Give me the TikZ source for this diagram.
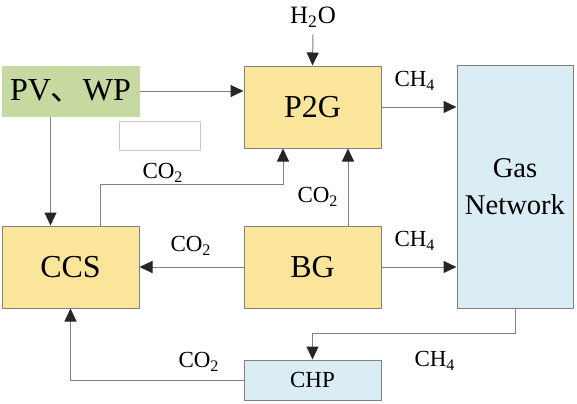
\documentclass[tikz,border=0pt]{standalone}
\usepackage{fontspec}
\setmainfont{Liberation Serif}
\newfontfamily\cjk{Noto Sans CJK SC}
\usetikzlibrary{arrows.meta}

\definecolor{boxyellow}{RGB}{251,229,155}
\definecolor{boxgreen}{RGB}{197,217,160}
\definecolor{boxblue}{RGB}{218,237,244}
\definecolor{linegray}{RGB}{128,128,128}

\begin{document}
\begin{tikzpicture}[x=0.5pt,y=-0.5pt,
  blk/.style={draw=linegray,line width=0.5pt,minimum width=68.5pt,minimum height=41pt,inner sep=0pt,font=\fontsize{16}{19}\selectfont},
  lbl/.style={inner sep=0pt,font=\fontsize{11.5}{14}\selectfont},
  flow/.style={draw=linegray,line width=0.5pt,-{Triangle[length=6.5pt,width=6pt,color=black!85]}}]
\useasboundingbox (0,0) rectangle (577,403);

% blocks
\node[blk,fill=boxgreen,draw=boxgreen,minimum height=25pt] (pvwp) at (70.5,91) {PV{\cjk 、}WP};
\node[draw=black!22,line width=0.5pt,minimum width=40.5pt,minimum height=14.5pt,inner sep=0pt] (blank) at (159.5,135.5) {};
\node[blk,fill=boxyellow] (p2g) at (312.5,107) {P2G};
\node[blk,fill=boxblue,minimum width=58pt,minimum height=121.5pt,align=center,font=\fontsize{14.3}{18.5}\selectfont] (gas) at (515,186.5) {Gas\\Network};
\node[blk,fill=boxyellow] (ccs) at (70.5,267) {CCS};
\node[blk,fill=boxyellow] (bg) at (312.5,267) {BG};
\node[blk,fill=boxblue,minimum height=20pt,font=\fontsize{11.5}{14}\selectfont] (chp) at (312.5,380) {CHP};
\node[lbl,font=\fontsize{12.5}{15}\selectfont] (h2o) at (313,17) {H\textsubscript{2}O};

% flows
\draw[flow] ([yshift=-3.5pt]h2o.south) -- (p2g.north);
\draw[flow] (pvwp.east) -- (pvwp.east -| p2g.west);
\draw[flow] ([xshift=-10pt]pvwp.south) -- ([xshift=-10pt]ccs.north);
\draw[flow] ([xshift=14.75pt]ccs.north) -- ++(0,-41) -| ([xshift=-14.75pt]p2g.south);
\draw[flow] ([xshift=17.75pt]bg.north) -- ([xshift=17.75pt]p2g.south);
\draw[flow] (bg.west) -- (ccs.east);
\draw[flow] (bg.east) -- (bg.east -| gas.west);
\draw[flow] (p2g.east) -- (p2g.east -| gas.west);
\draw[flow] (gas.south) -- ++(0,25) -| (chp.north);
\draw[flow] (chp.west) -| (ccs.south);

% labels
\node[lbl] (co2a) at (163,173) {CO\textsubscript{2}};
\node[lbl] (co2b) at (318,197) {CO\textsubscript{2}};
\node[lbl] (co2c) at (191,246) {CO\textsubscript{2}};
\node[lbl] (co2d) at (199,362) {CO\textsubscript{2}};
\node[lbl] (ch4a) at (415,81) {CH\textsubscript{4}};
\node[lbl] (ch4b) at (415,241) {CH\textsubscript{4}};
\node[lbl] (ch4c) at (435,361) {CH\textsubscript{4}};

\end{tikzpicture}
\end{document}
